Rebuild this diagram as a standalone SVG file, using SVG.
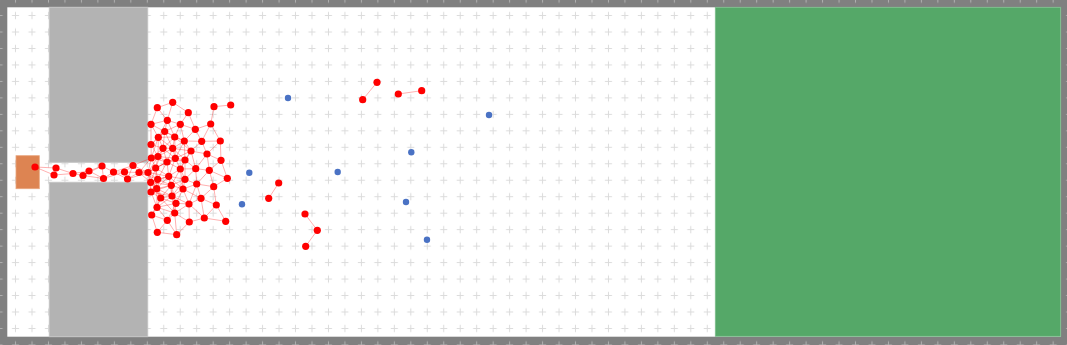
<svg xmlns="http://www.w3.org/2000/svg" width="1067" height="345" viewBox="0 0 1067 345">
<defs>
<style>
.e{stroke:#ff0000;stroke-opacity:0.35;stroke-width:0.9}
.r{fill:#ff0000}
.b{fill:#4a72c4}
.wall{fill:#b3b3b3;stroke:#c4c4c4;stroke-width:1}
</style>
<pattern id="grid" patternUnits="userSpaceOnUse" x="7.3" y="7.3" width="16.47" height="16.47">
<path d="M4.7 8.235H11.77M8.235 4.7V11.77" stroke="#c8c8c8" stroke-opacity="0.65" stroke-width="1" fill="none"/>
</pattern>
</defs>
<g id="background">
<rect x="0" y="0" width="1067" height="345" fill="#808080"/>
<rect x="7.3" y="7.3" width="1053.7" height="329.4" fill="#ffffff"/>
<rect x="0" y="0" width="1067" height="345" fill="url(#grid)"/>
</g>
<g id="wall">
<rect class="wall" x="49.3" y="7.3" width="98.4" height="155"/>
<rect class="wall" x="49.3" y="182.3" width="98.4" height="154.4"/>
</g>
<g id="goal"><rect x="715.3" y="7.3" width="345.4" height="329" fill="#55a868" stroke="#7dbd8c" stroke-width="0.8"/></g>
<g id="start"><rect x="16" y="155.7" width="23.3" height="33" fill="#dd8452" stroke="#e9a57e" stroke-width="0.8"/></g>
<g id="connectors">
<line class="e" x1="35" y1="167" x2="56" y2="168"/>
<line class="e" x1="35" y1="167" x2="54" y2="175"/>
<line class="e" x1="56" y1="168" x2="54" y2="175"/>
<line class="e" x1="56" y1="168" x2="73" y2="173.5"/>
<line class="e" x1="54" y1="175" x2="73" y2="173.5"/>
<line class="e" x1="73" y1="173.5" x2="83" y2="175.5"/>
<line class="e" x1="73" y1="173.5" x2="89" y2="171"/>
<line class="e" x1="83" y1="175.5" x2="89" y2="171"/>
<line class="e" x1="83" y1="175.5" x2="102" y2="166"/>
<line class="e" x1="83" y1="175.5" x2="103.5" y2="178.5"/>
<line class="e" x1="89" y1="171" x2="102" y2="166"/>
<line class="e" x1="89" y1="171" x2="103.5" y2="178.5"/>
<line class="e" x1="102" y1="166" x2="103.5" y2="178.5"/>
<line class="e" x1="102" y1="166" x2="113.5" y2="172"/>
<line class="e" x1="103.5" y1="178.5" x2="113.5" y2="172"/>
<line class="e" x1="103.5" y1="178.5" x2="124.5" y2="172"/>
<line class="e" x1="113.5" y1="172" x2="124.5" y2="172"/>
<line class="e" x1="113.5" y1="172" x2="133" y2="165.5"/>
<line class="e" x1="113.5" y1="172" x2="127.5" y2="179"/>
<line class="e" x1="124.5" y1="172" x2="133" y2="165.5"/>
<line class="e" x1="124.5" y1="172" x2="127.5" y2="179"/>
<line class="e" x1="124.5" y1="172" x2="139" y2="172.5"/>
<line class="e" x1="133" y1="165.5" x2="127.5" y2="179"/>
<line class="e" x1="133" y1="165.5" x2="139" y2="172.5"/>
<line class="e" x1="133" y1="165.5" x2="148" y2="172.5"/>
<line class="e" x1="127.5" y1="179" x2="139" y2="172.5"/>
<line class="e" x1="127.5" y1="179" x2="148" y2="172.5"/>
<line class="e" x1="139" y1="172.5" x2="148" y2="172.5"/>
<line class="e" x1="148" y1="172.5" x2="158" y2="156.5"/>
<line class="e" x1="148" y1="172.5" x2="151.3" y2="158"/>
<line class="e" x1="148" y1="172.5" x2="167" y2="162"/>
<line class="e" x1="148" y1="172.5" x2="155.7" y2="168"/>
<line class="e" x1="148" y1="172.5" x2="168.7" y2="176.3"/>
<line class="e" x1="148" y1="172.5" x2="157.7" y2="179.3"/>
<line class="e" x1="148" y1="172.5" x2="150.7" y2="182.3"/>
<line class="e" x1="148" y1="172.5" x2="156.7" y2="188.7"/>
<line class="e" x1="148" y1="172.5" x2="151" y2="192"/>
<line class="e" x1="139" y1="172.5" x2="151.3" y2="158"/>
<line class="e" x1="139" y1="172.5" x2="155.7" y2="168"/>
<line class="e" x1="139" y1="172.5" x2="157.7" y2="179.3"/>
<line class="e" x1="139" y1="172.5" x2="150.7" y2="182.3"/>
<line class="e" x1="133" y1="165.5" x2="151.3" y2="158"/>
<line class="e" x1="157.3" y1="107.7" x2="172.7" y2="102.3"/>
<line class="e" x1="157.3" y1="107.7" x2="151" y2="124.3"/>
<line class="e" x1="157.3" y1="107.7" x2="167.3" y2="120.3"/>
<line class="e" x1="172.7" y1="102.3" x2="188.3" y2="112.7"/>
<line class="e" x1="172.7" y1="102.3" x2="167.3" y2="120.3"/>
<line class="e" x1="188.3" y1="112.7" x2="180.3" y2="124.3"/>
<line class="e" x1="188.3" y1="112.7" x2="195.3" y2="129.3"/>
<line class="e" x1="214" y1="106.7" x2="230.7" y2="105"/>
<line class="e" x1="214" y1="106.7" x2="210.7" y2="124"/>
<line class="e" x1="151" y1="124.3" x2="167.3" y2="120.3"/>
<line class="e" x1="151" y1="124.3" x2="164.7" y2="131.5"/>
<line class="e" x1="151" y1="124.3" x2="158.3" y2="137.3"/>
<line class="e" x1="151" y1="124.3" x2="151" y2="144.5"/>
<line class="e" x1="167.3" y1="120.3" x2="180.3" y2="124.3"/>
<line class="e" x1="167.3" y1="120.3" x2="164.7" y2="131.5"/>
<line class="e" x1="167.3" y1="120.3" x2="158.3" y2="137.3"/>
<line class="e" x1="167.3" y1="120.3" x2="174.7" y2="137"/>
<line class="e" x1="180.3" y1="124.3" x2="195.3" y2="129.3"/>
<line class="e" x1="180.3" y1="124.3" x2="164.7" y2="131.5"/>
<line class="e" x1="180.3" y1="124.3" x2="174.7" y2="137"/>
<line class="e" x1="180.3" y1="124.3" x2="184.3" y2="141"/>
<line class="e" x1="195.3" y1="129.3" x2="210.7" y2="124"/>
<line class="e" x1="195.3" y1="129.3" x2="184.3" y2="141"/>
<line class="e" x1="195.3" y1="129.3" x2="201.7" y2="141.3"/>
<line class="e" x1="210.7" y1="124" x2="201.7" y2="141.3"/>
<line class="e" x1="210.7" y1="124" x2="220.3" y2="141"/>
<line class="e" x1="164.7" y1="131.5" x2="158.3" y2="137.3"/>
<line class="e" x1="164.7" y1="131.5" x2="174.7" y2="137"/>
<line class="e" x1="164.7" y1="131.5" x2="184.3" y2="141"/>
<line class="e" x1="164.7" y1="131.5" x2="151" y2="144.5"/>
<line class="e" x1="164.7" y1="131.5" x2="163" y2="148.3"/>
<line class="e" x1="164.7" y1="131.5" x2="172.7" y2="148.3"/>
<line class="e" x1="158.3" y1="137.3" x2="174.7" y2="137"/>
<line class="e" x1="158.3" y1="137.3" x2="151" y2="144.5"/>
<line class="e" x1="158.3" y1="137.3" x2="163" y2="148.3"/>
<line class="e" x1="158.3" y1="137.3" x2="172.7" y2="148.3"/>
<line class="e" x1="158.3" y1="137.3" x2="158" y2="156.5"/>
<line class="e" x1="158.3" y1="137.3" x2="151.3" y2="158"/>
<line class="e" x1="174.7" y1="137" x2="184.3" y2="141"/>
<line class="e" x1="174.7" y1="137" x2="163" y2="148.3"/>
<line class="e" x1="174.7" y1="137" x2="172.7" y2="148.3"/>
<line class="e" x1="174.7" y1="137" x2="191" y2="151"/>
<line class="e" x1="174.7" y1="137" x2="175.3" y2="158.3"/>
<line class="e" x1="184.3" y1="141" x2="201.7" y2="141.3"/>
<line class="e" x1="184.3" y1="141" x2="172.7" y2="148.3"/>
<line class="e" x1="184.3" y1="141" x2="191" y2="151"/>
<line class="e" x1="184.3" y1="141" x2="185" y2="160"/>
<line class="e" x1="184.3" y1="141" x2="175.3" y2="158.3"/>
<line class="e" x1="201.7" y1="141.3" x2="220.3" y2="141"/>
<line class="e" x1="201.7" y1="141.3" x2="191" y2="151"/>
<line class="e" x1="201.7" y1="141.3" x2="207" y2="154"/>
<line class="e" x1="220.3" y1="141" x2="207" y2="154"/>
<line class="e" x1="220.3" y1="141" x2="221" y2="160.3"/>
<line class="e" x1="151" y1="144.5" x2="163" y2="148.3"/>
<line class="e" x1="151" y1="144.5" x2="158" y2="156.5"/>
<line class="e" x1="151" y1="144.5" x2="151.3" y2="158"/>
<line class="e" x1="163" y1="148.3" x2="172.7" y2="148.3"/>
<line class="e" x1="163" y1="148.3" x2="158" y2="156.5"/>
<line class="e" x1="163" y1="148.3" x2="151.3" y2="158"/>
<line class="e" x1="163" y1="148.3" x2="175.3" y2="158.3"/>
<line class="e" x1="163" y1="148.3" x2="167" y2="162"/>
<line class="e" x1="163" y1="148.3" x2="155.7" y2="168"/>
<line class="e" x1="172.7" y1="148.3" x2="191" y2="151"/>
<line class="e" x1="172.7" y1="148.3" x2="158" y2="156.5"/>
<line class="e" x1="172.7" y1="148.3" x2="185" y2="160"/>
<line class="e" x1="172.7" y1="148.3" x2="175.3" y2="158.3"/>
<line class="e" x1="172.7" y1="148.3" x2="167" y2="162"/>
<line class="e" x1="191" y1="151" x2="207" y2="154"/>
<line class="e" x1="191" y1="151" x2="185" y2="160"/>
<line class="e" x1="191" y1="151" x2="175.3" y2="158.3"/>
<line class="e" x1="191" y1="151" x2="180.3" y2="169"/>
<line class="e" x1="191" y1="151" x2="195.7" y2="168.7"/>
<line class="e" x1="158" y1="156.5" x2="151.3" y2="158"/>
<line class="e" x1="158" y1="156.5" x2="175.3" y2="158.3"/>
<line class="e" x1="158" y1="156.5" x2="167" y2="162"/>
<line class="e" x1="158" y1="156.5" x2="155.7" y2="168"/>
<line class="e" x1="151.3" y1="158" x2="167" y2="162"/>
<line class="e" x1="151.3" y1="158" x2="155.7" y2="168"/>
<line class="e" x1="207" y1="154" x2="221" y2="160.3"/>
<line class="e" x1="207" y1="154" x2="195.7" y2="168.7"/>
<line class="e" x1="207" y1="154" x2="209.3" y2="170.3"/>
<line class="e" x1="185" y1="160" x2="175.3" y2="158.3"/>
<line class="e" x1="185" y1="160" x2="167" y2="162"/>
<line class="e" x1="185" y1="160" x2="180.3" y2="169"/>
<line class="e" x1="185" y1="160" x2="195.7" y2="168.7"/>
<line class="e" x1="185" y1="160" x2="185" y2="179.3"/>
<line class="e" x1="175.3" y1="158.3" x2="167" y2="162"/>
<line class="e" x1="175.3" y1="158.3" x2="155.7" y2="168"/>
<line class="e" x1="175.3" y1="158.3" x2="180.3" y2="169"/>
<line class="e" x1="175.3" y1="158.3" x2="168.7" y2="176.3"/>
<line class="e" x1="167" y1="162" x2="155.7" y2="168"/>
<line class="e" x1="167" y1="162" x2="180.3" y2="169"/>
<line class="e" x1="167" y1="162" x2="168.7" y2="176.3"/>
<line class="e" x1="167" y1="162" x2="157.7" y2="179.3"/>
<line class="e" x1="221" y1="160.3" x2="209.3" y2="170.3"/>
<line class="e" x1="221" y1="160.3" x2="227.3" y2="178.3"/>
<line class="e" x1="155.7" y1="168" x2="168.7" y2="176.3"/>
<line class="e" x1="155.7" y1="168" x2="157.7" y2="179.3"/>
<line class="e" x1="155.7" y1="168" x2="150.7" y2="182.3"/>
<line class="e" x1="155.7" y1="168" x2="156.7" y2="188.7"/>
<line class="e" x1="180.3" y1="169" x2="195.7" y2="168.7"/>
<line class="e" x1="180.3" y1="169" x2="168.7" y2="176.3"/>
<line class="e" x1="180.3" y1="169" x2="185" y2="179.3"/>
<line class="e" x1="180.3" y1="169" x2="171.3" y2="185.3"/>
<line class="e" x1="180.3" y1="169" x2="183" y2="189"/>
<line class="e" x1="195.7" y1="168.7" x2="209.3" y2="170.3"/>
<line class="e" x1="195.7" y1="168.7" x2="185" y2="179.3"/>
<line class="e" x1="195.7" y1="168.7" x2="196.7" y2="184"/>
<line class="e" x1="209.3" y1="170.3" x2="227.3" y2="178.3"/>
<line class="e" x1="209.3" y1="170.3" x2="196.7" y2="184"/>
<line class="e" x1="209.3" y1="170.3" x2="213.7" y2="186.7"/>
<line class="e" x1="227.3" y1="178.3" x2="213.7" y2="186.7"/>
<line class="e" x1="168.7" y1="176.3" x2="157.7" y2="179.3"/>
<line class="e" x1="168.7" y1="176.3" x2="185" y2="179.3"/>
<line class="e" x1="168.7" y1="176.3" x2="150.7" y2="182.3"/>
<line class="e" x1="168.7" y1="176.3" x2="171.3" y2="185.3"/>
<line class="e" x1="168.7" y1="176.3" x2="156.7" y2="188.7"/>
<line class="e" x1="168.7" y1="176.3" x2="183" y2="189"/>
<line class="e" x1="168.7" y1="176.3" x2="172" y2="196"/>
<line class="e" x1="157.7" y1="179.3" x2="150.7" y2="182.3"/>
<line class="e" x1="157.7" y1="179.3" x2="171.3" y2="185.3"/>
<line class="e" x1="157.7" y1="179.3" x2="156.7" y2="188.7"/>
<line class="e" x1="157.7" y1="179.3" x2="151" y2="192"/>
<line class="e" x1="157.7" y1="179.3" x2="160.7" y2="198"/>
<line class="e" x1="185" y1="179.3" x2="171.3" y2="185.3"/>
<line class="e" x1="185" y1="179.3" x2="196.7" y2="184"/>
<line class="e" x1="185" y1="179.3" x2="183" y2="189"/>
<line class="e" x1="185" y1="179.3" x2="172" y2="196"/>
<line class="e" x1="150.7" y1="182.3" x2="171.3" y2="185.3"/>
<line class="e" x1="150.7" y1="182.3" x2="156.7" y2="188.7"/>
<line class="e" x1="150.7" y1="182.3" x2="151" y2="192"/>
<line class="e" x1="150.7" y1="182.3" x2="160.7" y2="198"/>
<line class="e" x1="171.3" y1="185.3" x2="156.7" y2="188.7"/>
<line class="e" x1="171.3" y1="185.3" x2="183" y2="189"/>
<line class="e" x1="171.3" y1="185.3" x2="151" y2="192"/>
<line class="e" x1="171.3" y1="185.3" x2="160.7" y2="198"/>
<line class="e" x1="171.3" y1="185.3" x2="172" y2="196"/>
<line class="e" x1="171.3" y1="185.3" x2="176" y2="203.3"/>
<line class="e" x1="196.7" y1="184" x2="213.7" y2="186.7"/>
<line class="e" x1="196.7" y1="184" x2="183" y2="189"/>
<line class="e" x1="196.7" y1="184" x2="201" y2="198.3"/>
<line class="e" x1="196.7" y1="184" x2="189" y2="204"/>
<line class="e" x1="213.7" y1="186.7" x2="201" y2="198.3"/>
<line class="e" x1="213.7" y1="186.7" x2="216.3" y2="205"/>
<line class="e" x1="156.7" y1="188.7" x2="151" y2="192"/>
<line class="e" x1="156.7" y1="188.7" x2="160.7" y2="198"/>
<line class="e" x1="156.7" y1="188.7" x2="172" y2="196"/>
<line class="e" x1="156.7" y1="188.7" x2="157" y2="207.3"/>
<line class="e" x1="183" y1="189" x2="172" y2="196"/>
<line class="e" x1="183" y1="189" x2="201" y2="198.3"/>
<line class="e" x1="183" y1="189" x2="176" y2="203.3"/>
<line class="e" x1="183" y1="189" x2="189" y2="204"/>
<line class="e" x1="151" y1="192" x2="160.7" y2="198"/>
<line class="e" x1="151" y1="192" x2="172" y2="196"/>
<line class="e" x1="151" y1="192" x2="157" y2="207.3"/>
<line class="e" x1="160.7" y1="198" x2="172" y2="196"/>
<line class="e" x1="160.7" y1="198" x2="176" y2="203.3"/>
<line class="e" x1="160.7" y1="198" x2="157" y2="207.3"/>
<line class="e" x1="160.7" y1="198" x2="174.7" y2="213"/>
<line class="e" x1="160.7" y1="198" x2="151.7" y2="215"/>
<line class="e" x1="172" y1="196" x2="176" y2="203.3"/>
<line class="e" x1="172" y1="196" x2="189" y2="204"/>
<line class="e" x1="172" y1="196" x2="157" y2="207.3"/>
<line class="e" x1="172" y1="196" x2="174.7" y2="213"/>
<line class="e" x1="201" y1="198.3" x2="189" y2="204"/>
<line class="e" x1="201" y1="198.3" x2="216.3" y2="205"/>
<line class="e" x1="201" y1="198.3" x2="204.3" y2="218"/>
<line class="e" x1="176" y1="203.3" x2="189" y2="204"/>
<line class="e" x1="176" y1="203.3" x2="157" y2="207.3"/>
<line class="e" x1="176" y1="203.3" x2="174.7" y2="213"/>
<line class="e" x1="176" y1="203.3" x2="167.3" y2="220.3"/>
<line class="e" x1="189" y1="204" x2="174.7" y2="213"/>
<line class="e" x1="189" y1="204" x2="189.3" y2="222"/>
<line class="e" x1="189" y1="204" x2="204.3" y2="218"/>
<line class="e" x1="157" y1="207.3" x2="174.7" y2="213"/>
<line class="e" x1="157" y1="207.3" x2="151.7" y2="215"/>
<line class="e" x1="157" y1="207.3" x2="167.3" y2="220.3"/>
<line class="e" x1="216.3" y1="205" x2="204.3" y2="218"/>
<line class="e" x1="216.3" y1="205" x2="225.7" y2="221.3"/>
<line class="e" x1="174.7" y1="213" x2="189.3" y2="222"/>
<line class="e" x1="174.7" y1="213" x2="167.3" y2="220.3"/>
<line class="e" x1="174.7" y1="213" x2="176.7" y2="234.7"/>
<line class="e" x1="151.7" y1="215" x2="167.3" y2="220.3"/>
<line class="e" x1="151.7" y1="215" x2="157.3" y2="232.3"/>
<line class="e" x1="189.3" y1="222" x2="204.3" y2="218"/>
<line class="e" x1="189.3" y1="222" x2="176.7" y2="234.7"/>
<line class="e" x1="204.3" y1="218" x2="225.7" y2="221.3"/>
<line class="e" x1="167.3" y1="220.3" x2="157.3" y2="232.3"/>
<line class="e" x1="167.3" y1="220.3" x2="176.7" y2="234.7"/>
<line class="e" x1="157.3" y1="232.3" x2="176.7" y2="234.7"/>
<line class="e" x1="377" y1="82.3" x2="362.7" y2="99.7"/>
<line class="e" x1="398.3" y1="94" x2="421.7" y2="90.7"/>
<line class="e" x1="278.7" y1="183" x2="268.7" y2="198.3"/>
<line class="e" x1="305" y1="214" x2="317.3" y2="230.3"/>
<line class="e" x1="317.3" y1="230.3" x2="305.7" y2="246.3"/>
</g>
<g id="n1"><circle class="r" cx="35" cy="167" r="3.6"/></g>
<g id="n2"><circle class="r" cx="56" cy="168" r="3.6"/></g>
<g id="n3"><circle class="r" cx="54" cy="175" r="3.6"/></g>
<g id="n4"><circle class="r" cx="73" cy="173.5" r="3.6"/></g>
<g id="n5"><circle class="r" cx="83" cy="175.5" r="3.6"/></g>
<g id="n6"><circle class="r" cx="89" cy="171" r="3.6"/></g>
<g id="n7"><circle class="r" cx="102" cy="166" r="3.6"/></g>
<g id="n8"><circle class="r" cx="103.5" cy="178.5" r="3.6"/></g>
<g id="n9"><circle class="r" cx="113.5" cy="172" r="3.6"/></g>
<g id="n10"><circle class="r" cx="124.5" cy="172" r="3.6"/></g>
<g id="n11"><circle class="r" cx="133" cy="165.5" r="3.6"/></g>
<g id="n12"><circle class="r" cx="127.5" cy="179" r="3.6"/></g>
<g id="n13"><circle class="r" cx="139" cy="172.5" r="3.6"/></g>
<g id="n14"><circle class="r" cx="148" cy="172.5" r="3.6"/></g>
<g id="n15"><circle class="r" cx="157.3" cy="107.7" r="3.6"/></g>
<g id="n16"><circle class="r" cx="172.7" cy="102.3" r="3.6"/></g>
<g id="n17"><circle class="r" cx="188.3" cy="112.7" r="3.6"/></g>
<g id="n18"><circle class="r" cx="214" cy="106.7" r="3.6"/></g>
<g id="n19"><circle class="r" cx="230.7" cy="105" r="3.6"/></g>
<g id="n20"><circle class="r" cx="151" cy="124.3" r="3.6"/></g>
<g id="n21"><circle class="r" cx="167.3" cy="120.3" r="3.6"/></g>
<g id="n22"><circle class="r" cx="180.3" cy="124.3" r="3.6"/></g>
<g id="n23"><circle class="r" cx="195.3" cy="129.3" r="3.6"/></g>
<g id="n24"><circle class="r" cx="210.7" cy="124" r="3.6"/></g>
<g id="n25"><circle class="r" cx="164.7" cy="131.5" r="3.6"/></g>
<g id="n26"><circle class="r" cx="158.3" cy="137.3" r="3.6"/></g>
<g id="n27"><circle class="r" cx="174.7" cy="137" r="3.6"/></g>
<g id="n28"><circle class="r" cx="184.3" cy="141" r="3.6"/></g>
<g id="n29"><circle class="r" cx="201.7" cy="141.3" r="3.6"/></g>
<g id="n30"><circle class="r" cx="220.3" cy="141" r="3.6"/></g>
<g id="n31"><circle class="r" cx="151" cy="144.5" r="3.6"/></g>
<g id="n32"><circle class="r" cx="163" cy="148.3" r="3.6"/></g>
<g id="n33"><circle class="r" cx="172.7" cy="148.3" r="3.6"/></g>
<g id="n34"><circle class="r" cx="191" cy="151" r="3.6"/></g>
<g id="n35"><circle class="r" cx="158" cy="156.5" r="3.6"/></g>
<g id="n36"><circle class="r" cx="151.3" cy="158" r="3.6"/></g>
<g id="n37"><circle class="r" cx="207" cy="154" r="3.6"/></g>
<g id="n38"><circle class="r" cx="185" cy="160" r="3.6"/></g>
<g id="n39"><circle class="r" cx="175.3" cy="158.3" r="3.6"/></g>
<g id="n40"><circle class="r" cx="167" cy="162" r="3.6"/></g>
<g id="n41"><circle class="r" cx="221" cy="160.3" r="3.6"/></g>
<g id="n42"><circle class="r" cx="155.7" cy="168" r="3.6"/></g>
<g id="n43"><circle class="r" cx="180.3" cy="169" r="3.6"/></g>
<g id="n44"><circle class="r" cx="195.7" cy="168.7" r="3.6"/></g>
<g id="n45"><circle class="r" cx="209.3" cy="170.3" r="3.6"/></g>
<g id="n46"><circle class="r" cx="227.3" cy="178.3" r="3.6"/></g>
<g id="n47"><circle class="r" cx="168.7" cy="176.3" r="3.6"/></g>
<g id="n48"><circle class="r" cx="157.7" cy="179.3" r="3.6"/></g>
<g id="n49"><circle class="r" cx="185" cy="179.3" r="3.6"/></g>
<g id="n50"><circle class="r" cx="150.7" cy="182.3" r="3.6"/></g>
<g id="n51"><circle class="r" cx="171.3" cy="185.3" r="3.6"/></g>
<g id="n52"><circle class="r" cx="196.7" cy="184" r="3.6"/></g>
<g id="n53"><circle class="r" cx="213.7" cy="186.7" r="3.6"/></g>
<g id="n54"><circle class="r" cx="156.7" cy="188.7" r="3.6"/></g>
<g id="n55"><circle class="r" cx="183" cy="189" r="3.6"/></g>
<g id="n56"><circle class="r" cx="151" cy="192" r="3.6"/></g>
<g id="n57"><circle class="r" cx="160.7" cy="198" r="3.6"/></g>
<g id="n58"><circle class="r" cx="172" cy="196" r="3.6"/></g>
<g id="n59"><circle class="r" cx="201" cy="198.3" r="3.6"/></g>
<g id="n60"><circle class="r" cx="176" cy="203.3" r="3.6"/></g>
<g id="n61"><circle class="r" cx="189" cy="204" r="3.6"/></g>
<g id="n62"><circle class="r" cx="157" cy="207.3" r="3.6"/></g>
<g id="n63"><circle class="r" cx="216.3" cy="205" r="3.6"/></g>
<g id="n64"><circle class="r" cx="174.7" cy="213" r="3.6"/></g>
<g id="n65"><circle class="r" cx="151.7" cy="215" r="3.6"/></g>
<g id="n66"><circle class="r" cx="189.3" cy="222" r="3.6"/></g>
<g id="n67"><circle class="r" cx="204.3" cy="218" r="3.6"/></g>
<g id="n68"><circle class="r" cx="225.7" cy="221.3" r="3.6"/></g>
<g id="n69"><circle class="r" cx="167.3" cy="220.3" r="3.6"/></g>
<g id="n70"><circle class="r" cx="157.3" cy="232.3" r="3.6"/></g>
<g id="n71"><circle class="r" cx="176.7" cy="234.7" r="3.6"/></g>
<g id="n72"><circle class="r" cx="377" cy="82.3" r="3.6"/></g>
<g id="n73"><circle class="r" cx="362.7" cy="99.7" r="3.6"/></g>
<g id="n74"><circle class="r" cx="398.3" cy="94" r="3.6"/></g>
<g id="n75"><circle class="r" cx="421.7" cy="90.7" r="3.6"/></g>
<g id="n76"><circle class="r" cx="278.7" cy="183" r="3.6"/></g>
<g id="n77"><circle class="r" cx="268.7" cy="198.3" r="3.6"/></g>
<g id="n78"><circle class="r" cx="305" cy="214" r="3.6"/></g>
<g id="n79"><circle class="r" cx="317.3" cy="230.3" r="3.6"/></g>
<g id="n80"><circle class="r" cx="305.7" cy="246.3" r="3.6"/></g>
<g id="b1"><circle class="b" cx="288" cy="98" r="3.2"/></g>
<g id="b2"><circle class="b" cx="489" cy="115" r="3.2"/></g>
<g id="b3"><circle class="b" cx="411.3" cy="152.3" r="3.2"/></g>
<g id="b4"><circle class="b" cx="249.3" cy="172.7" r="3.2"/></g>
<g id="b5"><circle class="b" cx="337.7" cy="172" r="3.2"/></g>
<g id="b6"><circle class="b" cx="242" cy="204.3" r="3.2"/></g>
<g id="b7"><circle class="b" cx="406" cy="202" r="3.2"/></g>
<g id="b8"><circle class="b" cx="427" cy="239.7" r="3.2"/></g>
</svg>
